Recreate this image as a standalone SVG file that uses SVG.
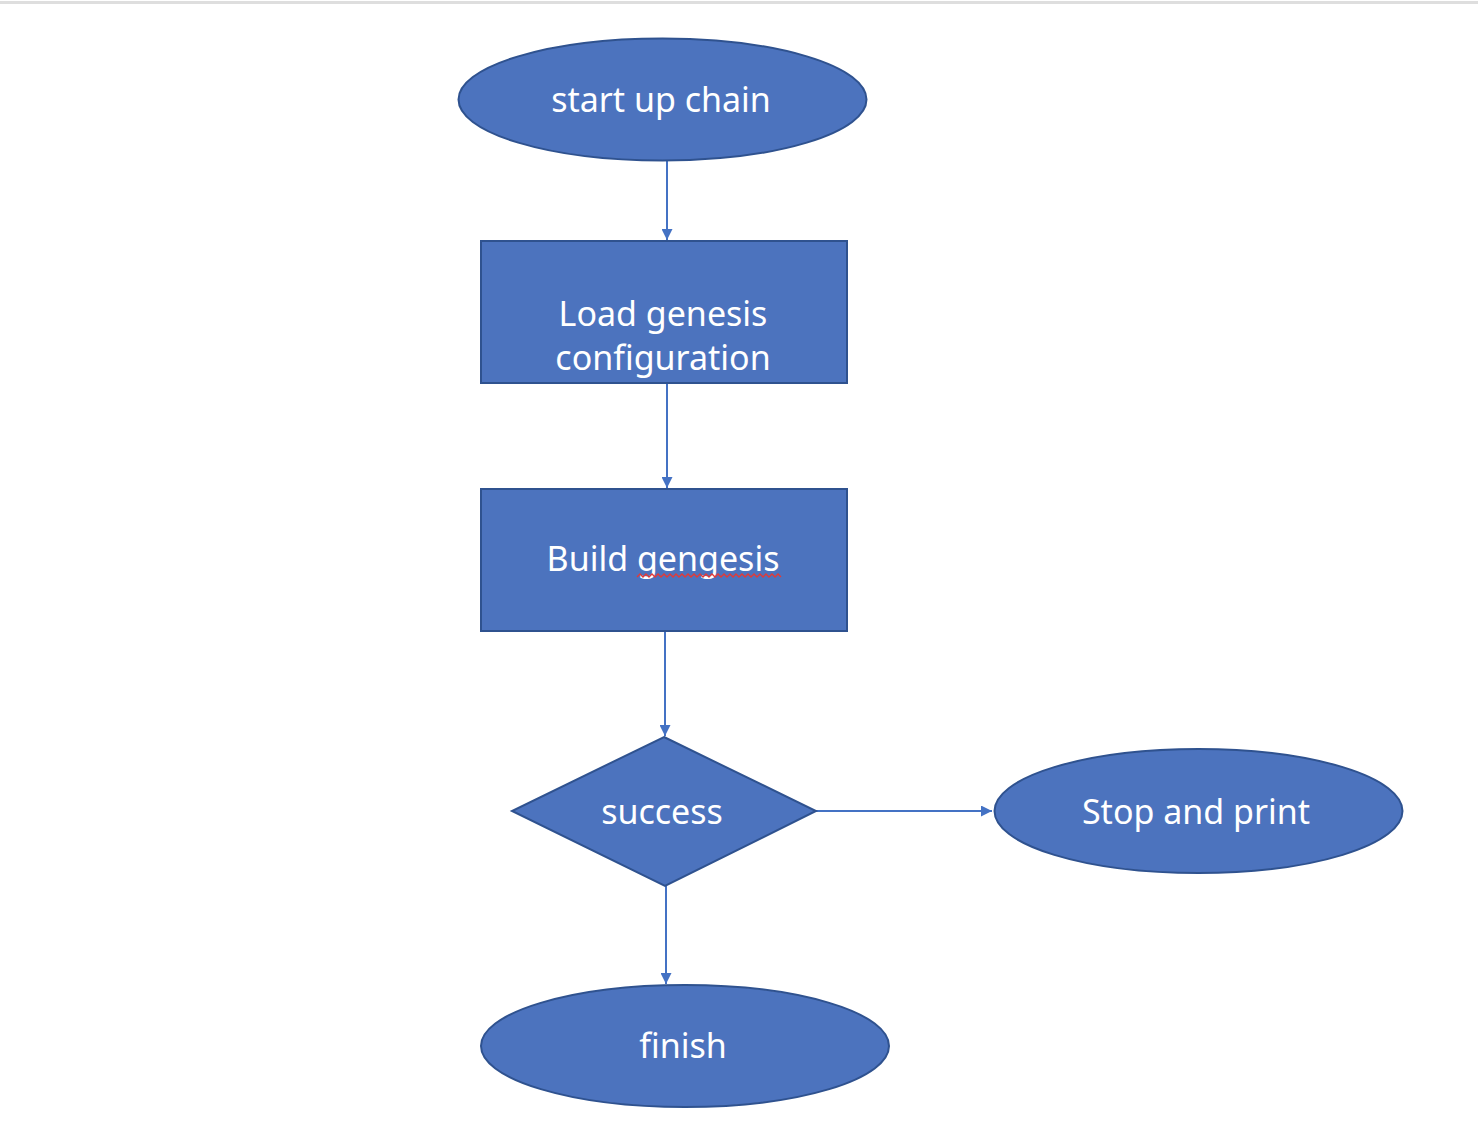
<svg xmlns="http://www.w3.org/2000/svg" width="1478" height="1130" viewBox="0 0 1478 1130">
<style>
.shape{fill:#4C73BE;stroke:#2F528F;stroke-width:2}
.lbl{fill:#ffffff;font-family:"Noto Sans","Open Sans",sans-serif;font-size:34px;text-anchor:middle}
.conn{stroke:#4472C4;stroke-width:2;fill:none}
</style>
<defs>
<marker id="arr" viewBox="0 0 10 10" refX="10" refY="5" markerWidth="11" markerHeight="11" markerUnits="userSpaceOnUse" orient="auto">
<path d="M0,0 L10,5 L0,10 z" fill="#4472C4"/>
</marker>
</defs>
<rect x="0" y="0" width="1478" height="1130" fill="#ffffff"/>
<rect x="0" y="1" width="1478" height="3" fill="#dedede"/>
<g id="connectors">
<line class="conn" x1="667" y1="161" x2="667" y2="240" marker-end="url(#arr)"/>
<line class="conn" x1="667" y1="383" x2="667" y2="488" marker-end="url(#arr)"/>
<line class="conn" x1="665" y1="631" x2="665" y2="736" marker-end="url(#arr)"/>
<line class="conn" x1="666" y1="886" x2="666" y2="984" marker-end="url(#arr)"/>
<line class="conn" x1="816" y1="811" x2="992" y2="811" marker-end="url(#arr)"/>
</g>
<g id="start">
<ellipse class="shape" cx="662.5" cy="99.5" rx="204" ry="61"/>
<text class="lbl" x="661" y="112">start up chain</text>
</g>
<g id="load">
<rect class="shape" x="481" y="241" width="366" height="142"/>
<text class="lbl" x="663" y="326">Load genesis</text>
<text class="lbl" x="663" y="370">configuration</text>
</g>
<g id="build">
<rect class="shape" x="481" y="489" width="366" height="142"/>
<text class="lbl" x="663" y="571">Build gengesis</text>
<path d="M637,577 l3,-3 l3,3 l3,-3 l3,3 l3,-3 l3,3 l3,-3 l3,3 l3,-3 l3,3 l3,-3 l3,3 l3,-3 l3,3 l3,-3 l3,3 l3,-3 l3,3 l3,-3 l3,3 l3,-3 l3,3 l3,-3 l3,3 l3,-3 l3,3 l3,-3 l3,3 l3,-3 l3,3 l3,-3 l3,3 l3,-3 l3,3 l3,-3 l3,3 l3,-3 l3,3 l3,-3 l3,3 l3,-3 l3,3 l3,-3 l3,3 l3,-3 l3,3 l3,-3 l3,3" fill="none" stroke="#E53935" stroke-width="1.3"/>
</g>
<g id="success">
<polygon class="shape" points="664,737 816,811 665,886 512,811"/>
<text class="lbl" x="662" y="824">success</text>
</g>
<g id="stop">
<ellipse class="shape" cx="1198.5" cy="811" rx="204" ry="62"/>
<text class="lbl" x="1196" y="824">Stop and print</text>
</g>
<g id="finish">
<ellipse class="shape" cx="685" cy="1046" rx="204" ry="61"/>
<text class="lbl" x="683" y="1058">finish</text>
</g>
</svg>
